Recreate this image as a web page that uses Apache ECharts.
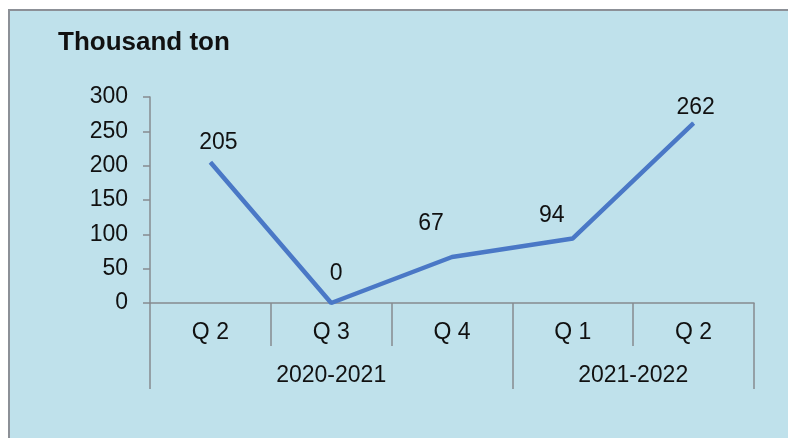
<!DOCTYPE html>
<html>
<head>
<meta charset="utf-8">
<script src="https://cdn.jsdelivr.net/npm/echarts@6/dist/echarts.min.js"></script>
<style>
  html, body { margin: 0; padding: 0; background: #ffffff; }
  #chart {
    position: absolute; left: 8px; top: 9px;
    width: 778px; height: 427px;
    background: #bfe1eb;
    border-left: 2px solid #8c9097;
    border-top: 2px solid #8c9097;
  }
</style>
</head>
<body>
<div id="chart"></div>
<script>
// Quarterly volumes, thousand ton
const quarters = ['Q 2', 'Q 3', 'Q 4', 'Q 1', 'Q 2'];
const volumes = [205, 0, 67, 94, 262];
// Fiscal-year groups spanning consecutive quarters
const yearNames = ['2020-2021', '2021-2022'];
const yearSpans = [3, 2];
const yTicks = [0, 50, 100, 150, 200, 250, 300];

// label nudges (px) so value labels sit clear of the line
const labelNudge = [[8, -20], [5, -29], [-21, -33], [-21, -23], [2, -15]];

// group boundaries and centres along a 0..N value scale
const bounds = [0];
yearSpans.forEach(s => bounds.push(bounds[bounds.length - 1] + s));
const centres = yearSpans.map((s, i) => bounds[i] + s / 2);

const txt = '#111111';
const axisGrey = '#868b90';
const font = 'Liberation Sans, Arial, sans-serif';

const chart = echarts.init(document.getElementById('chart'), null, { renderer: 'canvas' });
chart.setOption({
  animation: false,
  title: {
    text: 'Thousand ton',
    left: 43, top: 14,
    textStyle: { fontFamily: font, fontSize: 26, fontWeight: 'bold', color: txt }
  },
  grid: { left: 140, right: 34, top: 86, bottom: 135 },
  xAxis: [
    {
      type: 'category',
      data: quarters,
      boundaryGap: true,
      axisLine: { lineStyle: { color: axisGrey, width: 1.5 } },
      axisTick: { show: true, length: 43, lineStyle: { color: axisGrey, width: 1.5 } },
      axisLabel: { margin: 18, fontFamily: font, fontSize: 23, color: txt }
    },
    {
      type: 'value',
      min: 0,
      max: bounds[bounds.length - 1],
      position: 'bottom',
      axisLine: { show: false },
      splitLine: { show: false },
      axisTick: {
        show: true, length: 86,
        customValues: bounds,
        lineStyle: { color: axisGrey, width: 1.5 }
      },
      axisLabel: {
        margin: 61,
        customValues: centres,
        fontFamily: font, fontSize: 23, color: txt,
        formatter: v => {
          const i = centres.indexOf(v);
          return i >= 0 ? yearNames[i] : '';
        }
      }
    }
  ],
  yAxis: {
    type: 'value',
    min: yTicks[0],
    max: yTicks[yTicks.length - 1],
    interval: yTicks[1] - yTicks[0],
    axisLine: { show: true, lineStyle: { color: axisGrey, width: 1.5 } },
    axisTick: { show: true, length: 7, lineStyle: { color: axisGrey, width: 1.5 } },
    splitLine: { show: false },
    axisLabel: { margin: 22, fontFamily: font, fontSize: 23, color: txt }
  },
  series: [{
    type: 'line',
    xAxisIndex: 0,
    data: volumes.map((v, i) => ({
      value: v,
      label: { offset: labelNudge[i] }
    })),
    symbol: 'circle',
    symbolSize: 1,
    lineStyle: { color: '#4a78c6', width: 4.5 },
    itemStyle: { color: '#4a78c6' },
    label: {
      show: true,
      position: 'inside',
      fontFamily: font, fontSize: 23, color: txt
    }
  }]
});
</script>
</body>
</html>
